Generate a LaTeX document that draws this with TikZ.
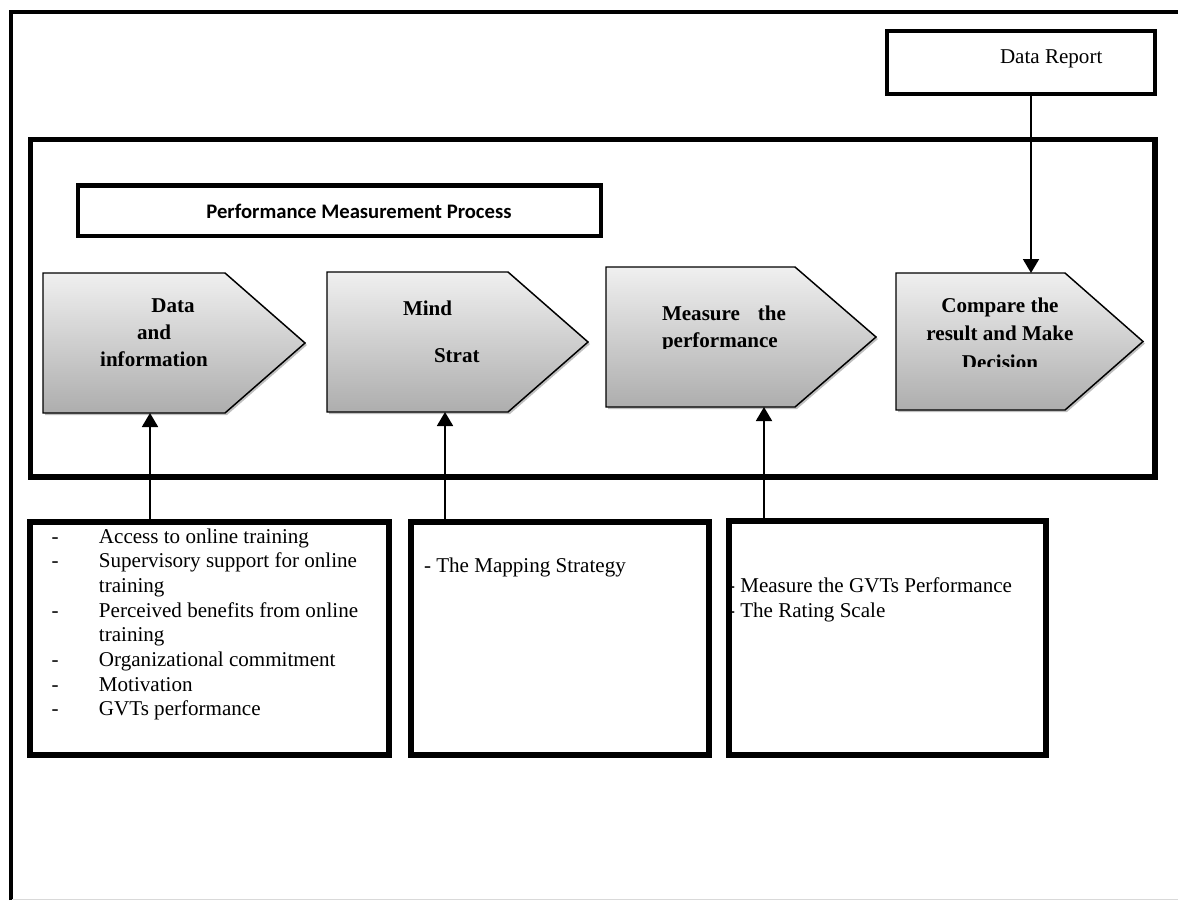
\documentclass[tikz,border=0pt]{standalone}
\usepackage{fontspec}
\setmainfont{Liberation Serif}
\newfontfamily\calibrifont{Carlito}
\usetikzlibrary{arrows.meta,calc,fit,shadows}
\begin{document}
\begin{tikzpicture}[x=0.75pt,y=-0.75pt,
  box/.style={draw=black,line width=3.6pt,inner sep=0pt,outer sep=0pt},
  area/.style={inner sep=0pt,outer sep=0pt},
  pent/.style={draw=black,line width=1.1pt,line join=miter,top color=black!6,bottom color=black!32,
     drop shadow={shadow xshift=1.5pt,shadow yshift=-1.5pt,opacity=0.25,fill=black}},
  arr/.style={draw=black,line width=1.4pt,-{Triangle[length=10.5pt,width=12pt]}},
  txt/.style={font=\fontsize{15.8}{18.5}\selectfont,inner sep=0pt,outer sep=0pt},
  btxt/.style={font=\fontsize{15.8}{20}\selectfont\bfseries,inner sep=0pt,outer sep=0pt}]
\useasboundingbox (0,0) rectangle (1178,900);

% outer frame (only top and left visible)
\draw[line width=3pt,line cap=butt,line join=miter] (10.5,900) -- (10.5,11.5) -- (1178,11.5);
\draw[black!15,line width=0.75pt] (12,899.5) -- (1178,899.5);

% data report
\node[box,line width=3pt,fit={(887,31) (1155,94)}] (dr) {};
\node[txt,anchor=base west] (drt) at (1000,63) {Data Report};

% process frame and title
\node[box,line width=3.8pt,fit={(30.5,139.5) (1155,477)}] (proc) {};
\node[box,line width=3.4pt,fit={(78,185.5) (601,236)}] (title) {};
\node[font=\calibrifont\bfseries\fontsize{15.5}{18}\selectfont,inner sep=0pt] (titlet) at (359,211) {Performance Measurement Process};

% pentagons
\node[area,fit={(43,273) (225,413)}] (p1) {};
\path[pent] (p1.north west) -- (p1.north east) -- ($(p1.east)+(80,0)$) -- (p1.south east) -- (p1.south west) -- cycle;
\node[area,fit={(327,272) (508,412)}] (p2) {};
\path[pent] (p2.north west) -- (p2.north east) -- ($(p2.east)+(80,0)$) -- (p2.south east) -- (p2.south west) -- cycle;
\node[area,fit={(606,267) (795,407)}] (p3) {};
\path[pent] (p3.north west) -- (p3.north east) -- ($(p3.east)+(81,0)$) -- (p3.south east) -- (p3.south west) -- cycle;
\node[area,fit={(896,273) (1065,410)}] (p4) {};
\path[pent] (p4.north west) -- (p4.north east) -- ($(p4.east)+(78,0)$) -- (p4.south east) -- (p4.south west) -- cycle;

% pentagon texts
\node[btxt,anchor=base] (t1a) at (173,312) {Data};
\node[btxt,anchor=base] (t1b) at (154,339) {and};
\node[btxt,anchor=base] (t1c) at (154,366) {information};

\node[btxt,anchor=base west] (t2a) at (403,315) {Mind};
\node[btxt,anchor=base west] (t2b) at (434,362) {Strat};

\begin{scope}
\clip (600,260) rectangle (880,348.5);
\node[btxt,anchor=base west] (t3a) at (662,320) {Measure};
\node[btxt,anchor=base east] (t3b) at (786,320) {the};
\node[btxt,anchor=base west] (t3c) at (662,347) {performance};
\end{scope}

\begin{scope}
\clip (890,260) rectangle (1150,366);
\node[btxt,anchor=base] (t4a) at (1000,312) {Compare the};
\node[btxt,anchor=base] (t4b) at (1000,340) {result and Make};
\node[btxt,anchor=base] (t4c) at (1000,369) {Decision};
\end{scope}

% lower boxes
\node[box,line width=3.8pt,fit={(30,522) (389,755)}] (b1) {};
\node[box,line width=3.8pt,fit={(411,522) (709,755)}] (b2) {};
\node[box,line width=3.8pt,fit={(729,521) (1046,755)}] (b3) {};

\node[txt,anchor=base west] (l1) at (51.5,543.3) {\begin{tabular}[t]{@{}p{35.6pt}@{}l@{}}
-&Access to online training\\
-&Supervisory support for online\\
&training\\
-&Perceived benefits from online\\
&training\\
-&Organizational commitment\\
-&Motivation\\
-&GVTs performance
\end{tabular}};

\node[txt,anchor=base west] (l2) at (424,572) {- The Mapping Strategy};
\node[txt,anchor=base west] (l3a) at (728,592) {- Measure the GVTs Performance};
\node[txt,anchor=base west] (l3b) at (728,617) {- The Rating Scale};

% connectors
\coordinate (x1) at (150,0);
\coordinate (x2) at (445,0);
\coordinate (x3) at (764,0);
\coordinate (x4) at (1031,0);
\draw[arr] (b1.north -| x1) -- (p1.south -| x1);
\draw[arr] (b2.north -| x2) -- (p2.south -| x2);
\draw[arr] (b3.north -| x3) -- (p3.south -| x3);
\draw[arr] (dr.south -| x4) -- (p4.north -| x4);
\end{tikzpicture}
\end{document}
